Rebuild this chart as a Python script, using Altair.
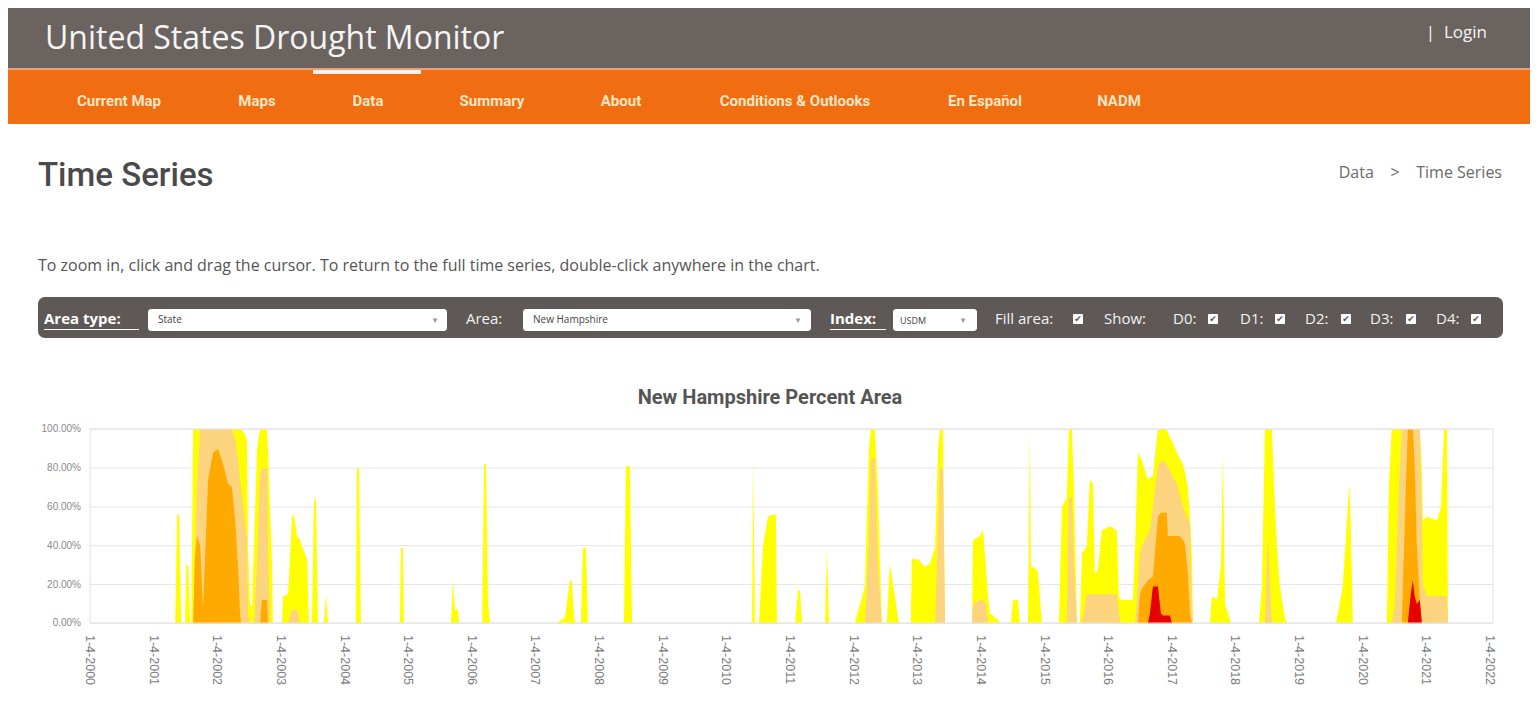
import altair as alt
import pandas as pd

# ---------------- data ----------------
dates = [
    "2000-01-04",
    "2001-05-07", "2001-05-18", "2001-05-30", "2001-06-10", "2001-07-03", "2001-07-09", "2001-07-20", "2001-08-01",
    "2001-08-07", "2001-08-18", "2001-08-29", "2001-09-10", "2001-09-27", "2001-10-14", "2001-11-12", "2001-12-11",
    "2002-01-08", "2002-02-06", "2002-03-06", "2002-03-29", "2002-04-16", "2002-05-03", "2002-05-14", "2002-05-20",
    "2002-06-06", "2002-06-23", "2002-06-29", "2002-07-11", "2002-07-22", "2002-08-02", "2002-08-20", "2002-09-06",
    "2002-09-17", "2002-10-16", "2002-10-22", "2002-11-02", "2002-11-14", "2002-11-19",
    "2003-01-10", "2003-01-16", "2003-02-14", "2003-03-09", "2003-03-20", "2003-04-06", "2003-04-24", "2003-05-11",
    "2003-06-03", "2003-06-14", "2003-07-01", "2003-07-13", "2003-07-24", "2003-08-05", "2003-09-08", "2003-09-20",
    "2003-10-01",
    "2004-03-09", "2004-03-15", "2004-03-27", "2004-04-07", "2004-11-17", "2004-11-23", "2004-12-04", "2004-12-10",
    "2005-09-06", "2005-09-18", "2005-09-29", "2005-10-17", "2005-10-22",
    "2006-03-04", "2006-03-15", "2006-03-26", "2006-04-07", "2006-04-18",
    "2007-05-02", "2007-06-22", "2007-07-21", "2007-08-01", "2007-08-13", "2007-08-24", "2007-09-22", "2007-10-03",
    "2007-10-21", "2007-11-01",
    "2008-05-26", "2008-06-06", "2008-06-29", "2008-07-11",
    "2010-05-31", "2010-06-06", "2010-06-17", "2010-07-10", "2010-08-02", "2010-08-31", "2010-09-23", "2010-10-15",
    "2010-10-21",
    "2011-02-02", "2011-02-19", "2011-03-02", "2011-03-14", "2011-07-24", "2011-08-04", "2011-08-16",
    "2012-01-11", "2012-03-09", "2012-04-01", "2012-04-12", "2012-05-05", "2012-05-22", "2012-06-14", "2012-07-13",
    "2012-07-30", "2012-09-20", "2012-11-28", "2012-12-03",
    "2013-01-08", "2013-02-17", "2013-03-18", "2013-04-16", "2013-05-03", "2013-05-14", "2013-05-31", "2013-06-12",
    "2013-11-14", "2013-11-19", "2013-12-30",
    "2014-01-16", "2014-02-02", "2014-02-13", "2014-02-25", "2014-04-11", "2014-04-23", "2014-06-25", "2014-07-07",
    "2014-08-04", "2014-08-16", "2014-10-01", "2014-10-12", "2014-10-18", "2014-10-29", "2014-11-27", "2014-12-20",
    "2015-03-28", "2015-04-14", "2015-05-12", "2015-05-24", "2015-06-10", "2015-06-22", "2015-07-09", "2015-07-26",
    "2015-08-07", "2015-09-04", "2015-09-21", "2015-10-09", "2015-10-20", "2015-11-06", "2015-11-29",
    "2016-01-14", "2016-02-23", "2016-03-06", "2016-03-17", "2016-05-25", "2016-06-06", "2016-06-23", "2016-07-04",
    "2016-07-16", "2016-08-19", "2016-08-31", "2016-09-17", "2016-10-16", "2016-11-02", "2016-11-13", "2016-12-06",
    "2016-12-12", "2016-12-23",
    "2017-01-05", "2017-02-02", "2017-02-19", "2017-03-09", "2017-03-20", "2017-04-06", "2017-04-18", "2017-04-29",
    "2017-05-05", "2017-08-11", "2017-08-22", "2017-09-20", "2017-10-13", "2017-10-24", "2017-11-05", "2017-12-03",
    "2017-12-09",
    "2018-05-19", "2018-06-05", "2018-06-22", "2018-07-09", "2018-08-01", "2018-08-19", "2018-08-30", "2018-09-16",
    "2018-10-15", "2018-10-26",
    "2019-08-03", "2019-08-15", "2019-09-12", "2019-10-11", "2019-10-22", "2019-11-09",
    "2020-05-22", "2020-06-02", "2020-06-19", "2020-07-07", "2020-07-30", "2020-08-16", "2020-09-08", "2020-09-19",
    "2020-10-06", "2020-10-18", "2020-10-29", "2020-11-10", "2020-11-27", "2020-12-09", "2020-12-14",
    "2021-01-07", "2021-02-05", "2021-03-06", "2021-03-29", "2021-04-15", "2021-05-02", "2021-05-08",
    "2022-01-04",
]

# D0-D4 (abnormally dry or worse), percent area
d0 = [
    0,
    0, 56, 56, 0, 0, 30, 30, 0,
    0, 100, 100, 100, 100, 100, 100, 100,
    100, 100, 100, 100, 100, 100, 100, 100,
    98, 95, 40, 10, 8, 40, 90, 100,
    100, 100, 90, 60, 31, 0,
    0, 14, 15, 55, 56, 45, 43, 38,
    33, 0, 0, 64, 64, 0, 0, 15,
    0,
    0, 80, 80, 0, 0, 39, 39, 0,
    0, 22, 7, 7, 0,
    0, 82, 82, 10, 0,
    0, 3, 22, 22, 3, 0, 0, 39,
    39, 0,
    0, 81, 81, 0,
    0, 85, 0, 0, 40, 55, 56, 56,
    0,
    0, 17, 17, 0, 0, 38, 0,
    0, 19, 90, 100, 100, 70, 0, 0,
    31, 0, 0, 33,
    33, 29, 31, 39, 90, 100, 100, 0,
    0, 43, 45,
    48, 29, 15, 5, 2, 0, 0, 12,
    12, 0, 0, 100, 29, 29, 27, 0,
    0, 60, 65, 100, 100, 70, 0, 0,
    36, 40, 74, 72, 26, 27, 48,
    50, 48, 14, 12, 12, 36, 88, 86,
    84, 74, 75, 76, 100, 100, 100, 100,
    98, 96,
    94, 88, 85, 82, 78, 70, 55, 36,
    0, 0, 14, 12, 30, 88, 10, 2,
    0,
    0, 19, 100, 100, 100, 60, 40, 19,
    3, 0,
    0, 5, 19, 60, 72, 0,
    0, 70, 100, 100, 100, 100, 100, 100,
    100, 100, 100, 100, 100, 80, 53,
    55, 54, 53, 60, 100, 100, 0,
    0,
]

# D1-D4 (moderate drought or worse)
d1 = [
    0,
    0, 0, 0, 0, 0, 0, 0, 0,
    0, 0, 40, 70, 100, 100, 100, 100,
    100, 100, 100, 100, 95, 85, 74, 70,
    55, 44, 5, 0, 0, 0, 30, 76,
    80, 80, 40, 0, 0, 0,
    0, 0, 0, 7, 7, 7, 0, 0,
    0, 0, 0, 0, 0, 0, 0, 0,
    0,
    0, 0, 0, 0, 0, 0, 0, 0,
    0, 0, 0, 0, 0,
    0, 0, 0, 0, 0,
    0, 0, 0, 0, 0, 0, 0, 0,
    0, 0,
    0, 0, 0, 0,
    0, 0, 0, 0, 0, 0, 0, 0,
    0,
    0, 0, 0, 0, 0, 0, 0,
    0, 0, 40, 85, 85, 30, 0, 0,
    0, 0, 0, 0,
    0, 0, 0, 0, 50, 80, 80, 0,
    0, 10, 12,
    12, 10, 0, 0, 0, 0, 0, 0,
    0, 0, 0, 0, 0, 0, 0, 0,
    0, 0, 0, 65, 65, 30, 0, 0,
    0, 15, 15, 15, 15, 15, 15,
    15, 15, 5, 0, 0, 0, 20, 36,
    40, 46, 48, 60, 81, 83, 84, 82,
    80, 79,
    76, 72, 66, 60, 57, 54, 50, 10,
    0, 0, 0, 0, 0, 0, 0, 0,
    0,
    0, 0, 0, 45, 0, 0, 0, 0,
    0, 0,
    0, 0, 0, 0, 0, 0,
    0, 0, 0, 10, 70, 100, 100, 100,
    100, 100, 100, 100, 100, 60, 20,
    14, 14, 14, 14, 14, 14, 0,
    0,
]

# D2-D4 (severe drought or worse)
d2 = [
    0,
    0, 0, 0, 0, 0, 0, 0, 0,
    0, 0, 35, 45, 40, 8, 74, 88,
    90, 82, 72, 70, 53, 29, 5, 0,
    0, 0, 0, 0, 0, 0, 0, 0,
    12, 12, 0, 0, 0, 0,
    0, 0, 0, 0, 0, 0, 0, 0,
    0, 0, 0, 0, 0, 0, 0, 0,
    0,
    0, 0, 0, 0, 0, 0, 0, 0,
    0, 0, 0, 0, 0,
    0, 0, 0, 0, 0,
    0, 0, 0, 0, 0, 0, 0, 0,
    0, 0,
    0, 0, 0, 0,
    0, 0, 0, 0, 0, 0, 0, 0,
    0,
    0, 0, 0, 0, 0, 0, 0,
    0, 0, 0, 0, 0, 0, 0, 0,
    0, 0, 0, 0,
    0, 0, 0, 0, 0, 0, 0, 0,
    0, 0, 0,
    0, 0, 0, 0, 0, 0, 0, 0,
    0, 0, 0, 0, 0, 0, 0, 0,
    0, 0, 0, 0, 0, 0, 0, 0,
    0, 0, 0, 0, 0, 0, 0,
    0, 0, 0, 0, 0, 0, 0, 15,
    18, 22, 23, 24, 55, 57, 57, 57,
    45, 45,
    45, 45, 45, 43, 41, 25, 5, 0,
    0, 0, 0, 0, 0, 0, 0, 0,
    0,
    0, 0, 0, 0, 0, 0, 0, 0,
    0, 0,
    0, 0, 0, 0, 0, 0,
    0, 0, 0, 0, 0, 0, 70, 100,
    100, 100, 80, 40, 12, 0, 0,
    0, 0, 0, 0, 0, 0, 0,
    0,
]

# D3-D4 (extreme drought or worse); zero on every other date
d3_dates = [
    "2016-08-31", "2016-09-17", "2016-10-16", "2016-11-02", "2016-11-13",
    "2016-12-06", "2016-12-12", "2016-12-23",
    "2020-10-06", "2020-10-18", "2020-10-29", "2020-11-10", "2020-11-27",
]
d3_values = [5, 19, 19, 5, 4, 4, 4, 4, 15, 22, 14, 10, 12]
d3_lookup = dict(zip(d3_dates, d3_values))
d3 = [d3_lookup.get(dte, 0) for dte in dates]

categories = ["D0", "D1", "D2", "D3"]
cat_colors = ["#FFFF00", "#FCD37F", "#FFAA00", "#E60000"]

x_tick_dates = [
    "2000-01-04", "2001-01-04", "2002-01-04", "2003-01-04", "2004-01-04", "2005-01-04",
    "2006-01-04", "2007-01-04", "2008-01-04", "2009-01-04", "2010-01-04", "2011-01-04",
    "2012-01-04", "2013-01-04", "2014-01-04", "2015-01-04", "2016-01-04", "2017-01-04",
    "2018-01-04", "2019-01-04", "2020-01-04", "2021-01-04", "2022-01-04",
]
x_tick_labels = [
    "1-4-2000", "1-4-2001", "1-4-2002", "1-4-2003", "1-4-2004", "1-4-2005",
    "1-4-2006", "1-4-2007", "1-4-2008", "1-4-2009", "1-4-2010", "1-4-2011",
    "1-4-2012", "1-4-2013", "1-4-2014", "1-4-2015", "1-4-2016", "1-4-2017",
    "1-4-2018", "1-4-2019", "1-4-2020", "1-4-2021", "1-4-2022",
]
y_tick_values = [0, 20, 40, 60, 80, 100]
y_tick_labels = ["0.00%", "20.00%", "40.00%", "60.00%", "80.00%", "100.00%"]

nav_items = ["Current Map", "Maps", "Data", "Summary", "About", "Conditions & Outlooks", "En Español", "NADM"]

# ---------------- tables ----------------
series = {"D0": d0, "D1": d1, "D2": d2, "D3": d3}
rows = []
for cat in categories:
    for dte, v in zip(dates, series[cat]):
        rows.append({"date": pd.Timestamp(dte), "cat": cat, "pct": v})
df = pd.DataFrame(rows)

xdf = pd.DataFrame({"date": pd.to_datetime(x_tick_dates), "label": x_tick_labels})
ydf = pd.DataFrame({"v": y_tick_values, "label": y_tick_labels})
one = pd.DataFrame({"k": [0]})

# ---------------- layout helpers (reference px -> chart px, page margin 8) ----------------
M = 8
W, H = 1522, 684

SANS = "Open Sans"
NARROW = "Roboto"
NB = "\u00a0"


def rect(x1, y1, x2, y2, color, radius=0, stroke=None):
    kw = dict(color=color, cornerRadius=radius)
    if stroke is not None:
        kw = dict(fill=color, stroke=stroke, strokeWidth=1, cornerRadius=radius)
    return alt.Chart(one).mark_rect(**kw).encode(
        x=alt.value(x1 - M), y=alt.value(y1 - M), x2=alt.value(x2 - M), y2=alt.value(y2 - M)
    )


def txt(s, x, y, size, color, font=SANS, weight="normal", align="left", baseline="middle"):
    return alt.Chart(one).mark_text(
        text=s, fontSize=size, color=color, font=font, fontWeight=weight, align=align, baseline=baseline
    ).encode(x=alt.value(x - M), y=alt.value(y - M))


layers = []

# header
layers.append(rect(0, 0, 1546, 68, "#6a6360"))
layers.append(rect(0, 68, 1546, 70, "#e9a072"))
layers.append(rect(0, 70, 1546, 124, "#f06d12"))
layers.append(rect(313, 70, 421, 74, "#f7f1ea"))
layers.append(txt("United States Drought Monitor", 45, 39, 32, "#f4f4f4"))
layers.append(txt("|" + NB + NB + "Login", 1487, 33, 17, "#f4f4f4", align="right"))

nav_centers = [119, 257, 368, 492, 621, 795, 985, 1119]
for name, cx in zip(nav_items, nav_centers):
    layers.append(txt(name, cx, 101, 15, "#fde6c2", font=NARROW, weight="bold", align="center"))

# page heading
layers.append(txt("Time Series", 38, 176, 33, "#4a4a4a", font=NARROW, weight=500))
layers.append(txt("Data" + NB * 4 + ">" + NB * 4 + "Time Series", 1502, 173, 16, "#6a6a6a", align="right"))
layers.append(txt("To zoom in, click and drag the cursor. To return to the full time series, double-click anywhere in the chart.",
                  38, 266, 16, "#555555"))

# control bar
layers.append(rect(38, 297, 1503, 338, "#5e5956", radius=7))
CY = 319
layers.append(txt("Area type:", 44, CY, 15, "#ffffff", weight="bold"))
layers.append(rect(44, 329, 139, 330, "#ffffff"))
layers.append(rect(148, 309, 447, 331, "#ffffff", radius=3))
layers.append(txt("State", 158, 320, 10, "#444444"))
layers.append(txt("▾", 435, 320, 9, "#999999", font="DejaVu Sans", align="center"))
layers.append(txt("Area:", 466, CY, 15, "#f2f2f2"))
layers.append(rect(523, 309, 811, 331, "#ffffff", radius=3))
layers.append(txt("New Hampshire", 533, 320, 10, "#444444"))
layers.append(txt("▾", 798, 320, 9, "#999999", font="DejaVu Sans", align="center"))
layers.append(txt("Index:", 830, CY, 15, "#ffffff", weight="bold"))
layers.append(rect(830, 329, 886, 330, "#ffffff"))
layers.append(rect(893, 309, 977, 331, "#ffffff", radius=3))
layers.append(txt("USDM", 900, 321, 9, "#444444"))
layers.append(txt("▾", 963, 320, 9, "#999999", font="DejaVu Sans", align="center"))
layers.append(txt("Fill area:", 995, CY, 15, "#f2f2f2"))
layers.append(txt("Show:", 1104, CY, 15, "#f2f2f2"))
for lab, lx in zip(["D0:", "D1:", "D2:", "D3:", "D4:"], [1173, 1240, 1305, 1370, 1436]):
    layers.append(txt(lab, lx, CY, 15, "#f2f2f2"))
for cbx in [1073, 1208, 1275, 1341, 1406, 1471]:
    layers.append(rect(cbx, 314, cbx + 10, 324, "#ffffff", radius=1))
    layers.append(txt("✔", cbx + 5, 319, 9, "#555555", font="DejaVu Sans", align="center"))

# chart title
layers.append(txt("New Hampshire Percent Area", 770, 398, 20, "#555555", font=NARROW, weight="bold", align="center"))

# ---------------- the data chart ----------------
xs = alt.Scale(
    domain=[alt.DateTime(year=2000, month=1, date=4), alt.DateTime(year=2022, month=1, date=4)],
    range=[90 - M, 1490 - M], nice=False,
)
ys = alt.Scale(domain=[0, 100], range=[623.3 - M, 429.3 - M], nice=False)

grid = alt.Chart(ydf).mark_rule(color="#e6e6e6", strokeWidth=1).encode(
    y=alt.Y("v:Q", scale=ys, axis=None), x=alt.value(90 - M), x2=alt.value(1493 - M)
)
layers.append(grid)

for cat, col in zip(categories, cat_colors):
    layers.append(
        alt.Chart(df).transform_filter(alt.datum.cat == cat).mark_area(color=col, opacity=1).encode(
            x=alt.X("date:T", scale=xs, axis=None),
            y=alt.Y("pct:Q", scale=ys, axis=None),
        )
    )

layers.append(rect(90, 429, 1493, 623, "transparent", stroke="#e3e3e3"))

layers.append(
    alt.Chart(ydf).mark_text(align="right", baseline="middle", fontSize=10, color="#8a8a8a", font="Liberation Sans").encode(
        y=alt.Y("v:Q", scale=ys, axis=None), x=alt.value(81 - M), text="label:N"
    )
)
layers.append(
    alt.Chart(xdf).mark_text(angle=90, align="left", baseline="middle", fontSize=12.5, color="#7a7a7a", font="Liberation Sans").encode(
        x=alt.X("date:T", scale=xs, axis=None), y=alt.value(635 - M), text="label:N"
    )
)

chart = alt.layer(*layers).properties(
    width=W, height=H, padding=0, autosize=alt.AutoSizeParams(type="none"), background="#ffffff"
).configure_view(stroke=None)

chart.save("out.html", embed_options={"renderer": "svg", "actions": False})
